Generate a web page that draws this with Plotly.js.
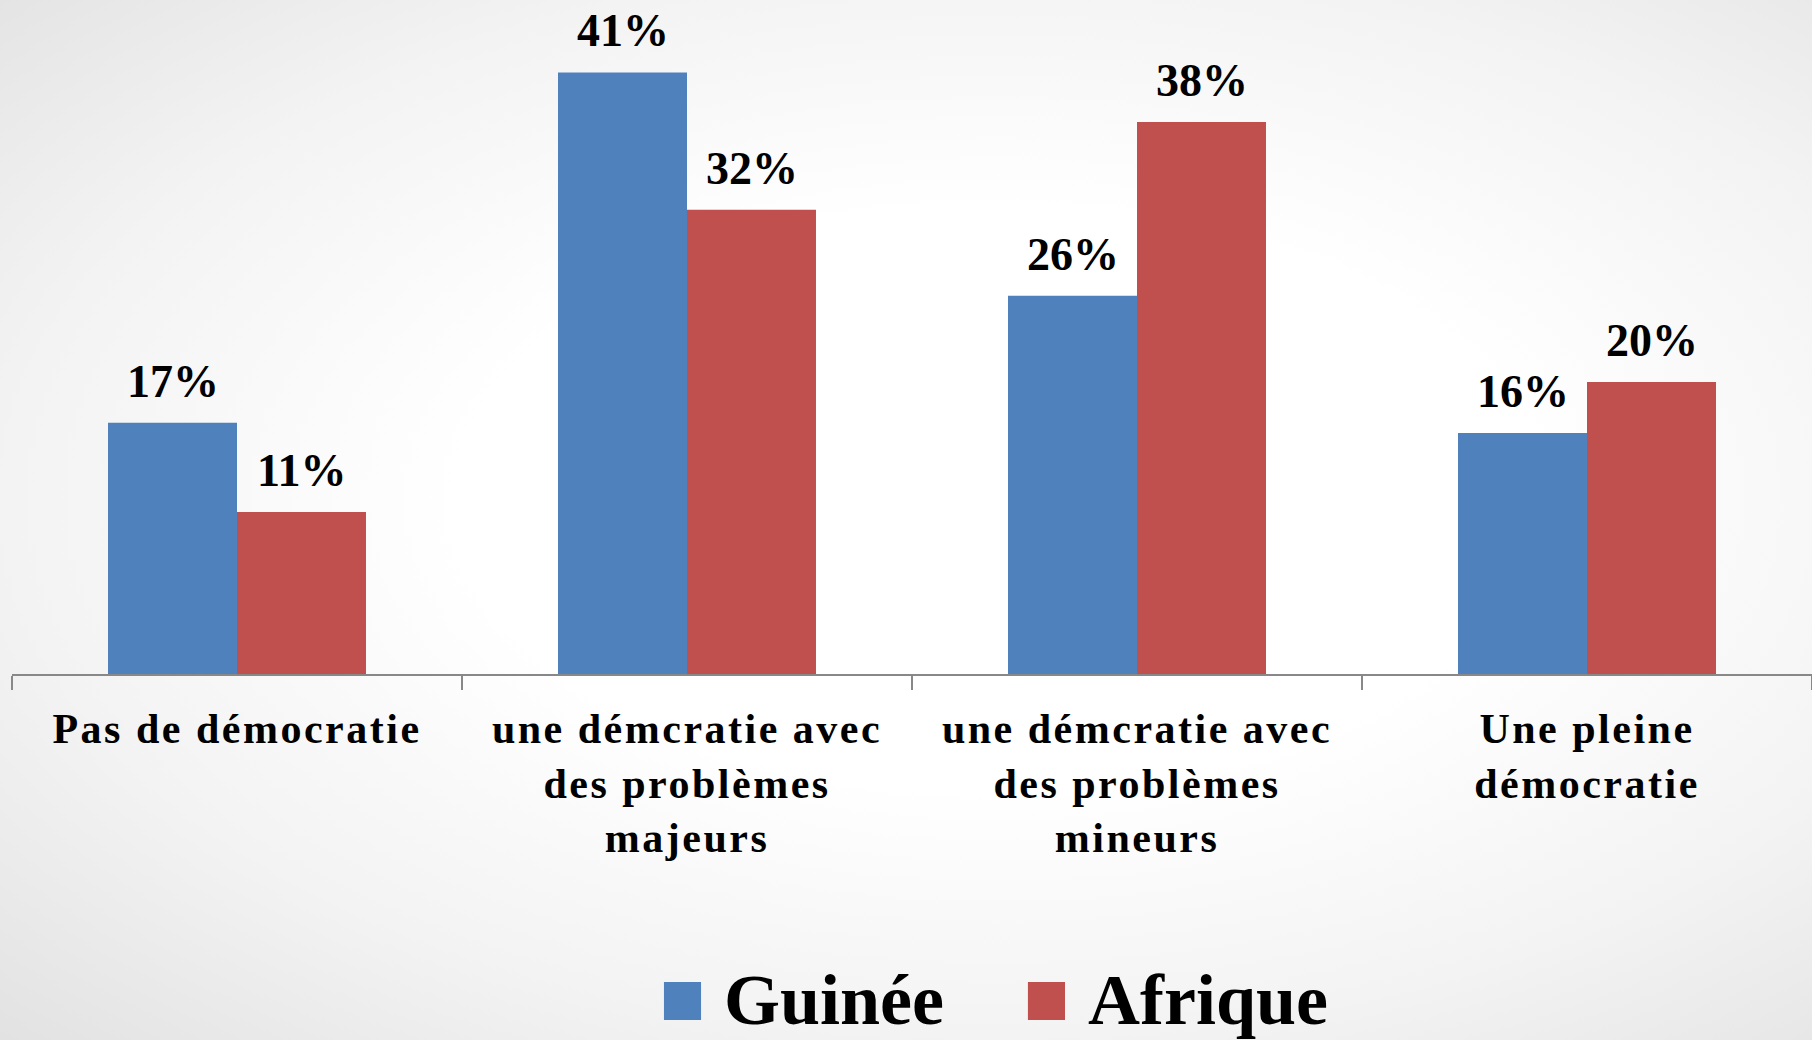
<!DOCTYPE html>
<html>
<head>
<meta charset="utf-8">
<script src="https://cdn.plot.ly/plotly-3.0.1.min.js"></script>
<style>
  html, body { margin: 0; padding: 0; width: 1812px; height: 1040px; overflow: hidden; }
  body { background: radial-gradient(ellipse farthest-corner at 55% 48%, #ffffff 38%, #f3f3f3 70%, #e2e2e2 100%); }
  #chart { width: 1812px; height: 1040px; }
  #chart .xtick text { letter-spacing: 2.5px; }
</style>
</head>
<body>
<div id="chart"></div>
<script>
const categories = [
  'Pas de démocratie',
  'une démcratie avec<br>des problèmes<br>majeurs',
  'une démcratie avec<br>des problèmes<br>mineurs',
  'Une pleine<br>démocratie'
];
const seriesNames = ['Guinée', 'Afrique'];
const guinee = [17.2, 41.2, 25.9, 16.5];
const afrique = [11.1, 31.8, 37.8, 20.0];
const guineeLabels = ['17%', '41%', '26%', '16%'];
const afriqueLabels = ['11%', '32%', '38%', '20%'];
const colors = ['#4F81BD', '#C0504D'];

const serif = 'Liberation Serif, Times New Roman, serif';

const traces = [
  { type: 'bar', name: seriesNames[0], x: categories, y: guinee, marker: { color: colors[0] }, showlegend: false, hoverinfo: 'none' },
  { type: 'bar', name: seriesNames[1], x: categories, y: afrique, marker: { color: colors[1] }, showlegend: false, hoverinfo: 'none' }
];

const annotations = [];
const shift = 64.5;
categories.forEach((c, i) => {
  annotations.push({ x: i, y: guinee[i], xref: 'x', yref: 'y', text: guineeLabels[i], showarrow: false,
    xanchor: 'center', yanchor: 'bottom', xshift: -shift, yshift: 14,
    font: { family: serif, size: 46, color: '#000000', weight: 'bold' } });
  annotations.push({ x: i, y: afrique[i], xref: 'x', yref: 'y', text: afriqueLabels[i], showarrow: false,
    xanchor: 'center', yanchor: 'bottom', xshift: shift, yshift: 14,
    font: { family: serif, size: 46, color: '#000000', weight: 'bold' } });
});

// legend (custom, large squares)
const legendY = -0.4840;
const legendText = [0.3944, 0.5967];
const legendBox = [[0.3622, 0.3828], [0.5644, 0.5850]];
const shapes = [];
seriesNames.forEach((n, k) => {
  annotations.push({ x: legendText[k], y: legendY, xref: 'paper', yref: 'paper', text: n, showarrow: false,
    xanchor: 'left', yanchor: 'middle', font: { family: serif, size: 72, color: '#000000', weight: 'bold' } });
  shapes.push({ type: 'rect', xref: 'paper', yref: 'paper', x0: legendBox[k][0], x1: legendBox[k][1],
    y0: -0.5134, y1: -0.457, fillcolor: colors[k], line: { width: 0 } });
});

const layout = {
  width: 1812, height: 1040,
  margin: { l: 12, r: 0, t: 0, b: 366, pad: 0 },
  paper_bgcolor: 'rgba(0,0,0,0)',
  plot_bgcolor: 'rgba(0,0,0,0)',
  barmode: 'group',
  bargap: 0.4267,
  bargroupgap: 0,
  showlegend: false,
  xaxis: {
    type: 'category',
    showline: true, linecolor: '#888888', linewidth: 1.5,
    ticks: 'outside', tickson: 'boundaries', ticklen: 14, tickcolor: '#888888', tickwidth: 1.5,
    showgrid: false, zeroline: false,
    tickfont: { family: serif, size: 42, color: '#000000', weight: 'bold' },
    ticklabelstandoff: 17,
    fixedrange: true
  },
  yaxis: {
    visible: false, range: [0, 46.16], showgrid: false, zeroline: false, fixedrange: true
  },
  annotations: annotations,
  shapes: shapes
};

Plotly.newPlot('chart', traces, layout, { staticPlot: true, displayModeBar: false });
</script>
</body>
</html>
